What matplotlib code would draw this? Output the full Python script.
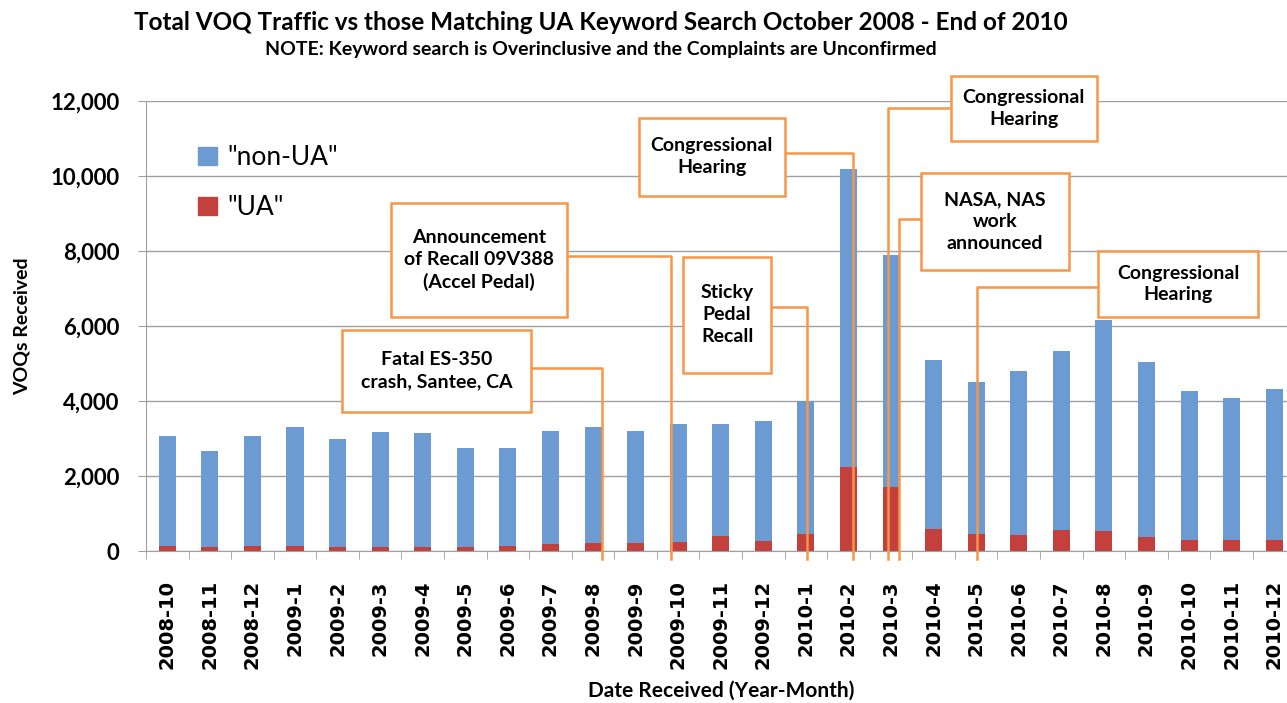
import numpy as np
import matplotlib
matplotlib.use('Agg')
import matplotlib.pyplot as plt
from matplotlib.patches import Rectangle, Patch

plt.rcParams['font.family'] = ['Lato', 'DejaVu Sans']

# data
months = ['2008-10', '2008-11', '2008-12',
          '2009-1', '2009-2', '2009-3', '2009-4', '2009-5', '2009-6',
          '2009-7', '2009-8', '2009-9', '2009-10', '2009-11', '2009-12',
          '2010-1', '2010-2', '2010-3', '2010-4', '2010-5', '2010-6',
          '2010-7', '2010-8', '2010-9', '2010-10', '2010-11', '2010-12']
ua = [140, 115, 140, 140, 115, 115, 115, 115, 140, 190, 205, 205, 240, 410,
      258, 450, 2230, 1700, 595, 445, 420, 550, 530, 370, 285, 285, 285]
non_ua = [2920, 2545, 2920, 3160, 2875, 3055, 3025, 2635, 2620, 3020, 3095,
          3005, 3160, 2990, 3212, 3550, 7970, 6200, 4495, 4055, 4380, 4790,
          5620, 4670, 3975, 3785, 4045]

# callouts: text, box (x0, x1, y0, y1), elbow y, target x
notes = [
    ('Fatal ES-350\ncrash, Santee, CA', (4.11, 8.55, 3715, 5893), 4888, 10.21),
    ('Announcement\nof Recall 09V388\n(Accel Pedal)', (5.26, 9.39, 6232, 9288), 7867, 11.84),
    ('Sticky\nPedal\nRecall', (12.11, 14.19, 4755, 7848), 6515, 15.02),
    ('Congressional\nHearing', (11.07, 14.51, 9467, 11555), 10621, 16.10),
    ('Congressional\nHearing', (18.40, 21.83, 10933, 12675), 11821, 16.92),
    ('NASA, NAS\nwork\nannounced', (17.70, 21.18, 7493, 10088), 8845, 17.18),
    ('Congressional\nHearing', (21.87, 25.62, 6240, 8000), 7032, 19.02),
]

blue = '#6b9bd2'
red = '#c4403d'
orange = '#f79646'
grey = '#a0a0a0'

fig = plt.figure(figsize=(12.87, 7.03), dpi=100)
ax = fig.add_axes([146 / 1287, 152 / 703, 1149.5 / 1287, 450 / 703])

x = np.arange(len(months))
ax.bar(x, ua, width=0.4, color=red, zorder=2)
ax.bar(x, non_ua, width=0.4, bottom=ua, color=blue, zorder=2)

ax.set_xlim(-0.5, len(months) - 0.5)
ax.set_ylim(0, 12000)
ax.set_yticks(np.arange(0, 12001, 2000))
ax.set_yticklabels([f'{v:,}' for v in range(0, 12001, 2000)],
                   fontsize=16, fontweight='bold')
ax.grid(axis='y', color=grey, lw=1, zorder=0)
ax.set_xticks(x)
ax.set_xticklabels(months, rotation=90, fontsize=14, fontweight='bold',
                   family='DejaVu Sans')
ax.set_xticks(np.arange(-0.5, len(months)), minor=True)
ax.tick_params(axis='x', which='major', length=0, pad=21)
ax.tick_params(axis='x', which='minor', length=6, color=grey)
ax.tick_params(axis='y', length=6, color=grey, pad=13)
for s in ['top', 'right']:
    ax.spines[s].set_visible(False)
for s in ['left', 'bottom']:
    ax.spines[s].set_color(grey)

ax.set_ylabel('VOQs Received', fontsize=14, fontweight='bold', labelpad=14)
ax.set_xlabel('Date Received (Year-Month)', fontsize=15, fontweight='bold',
              labelpad=8)

handles = [Patch(color=blue, label='"non-UA"'), Patch(color=red, label='"UA"')]
ax.legend(handles=handles, loc='upper left', bbox_to_anchor=(0.025, 0.955),
          frameon=False, fontsize=19, handlelength=0.7, handleheight=0.7,
          handletextpad=0.4, labelspacing=0.95)

for text, (x0, x1, y0, y1), cy, cx in notes:
    ax.add_patch(Rectangle((x0, y0), x1 - x0, y1 - y0, facecolor='white',
                           edgecolor=orange, lw=1.8, zorder=5, clip_on=False))
    ax.text((x0 + x1) / 2, (y0 + y1) / 2, text, ha='center', va='center',
            fontsize=14, fontweight='bold', linespacing=1.35, zorder=6)
    ex = x1 if cx > x1 else x0
    ax.plot([ex, cx, cx], [cy, cy, -210], color=orange, lw=1.8, zorder=4,
            clip_on=False)

fig.text(601 / 1287, 1 - 22 / 703,
         'Total VOQ Traffic vs those Matching UA Keyword Search October 2008 - End of 2010',
         ha='center', va='center', fontsize=17.5, fontweight='bold')
fig.text(601 / 1287, 1 - 50 / 703,
         'NOTE: Keyword search is Overinclusive and the Complaints are Unconfirmed',
         ha='center', va='center', fontsize=14, fontweight='bold')

fig.savefig('out.png', dpi=100)
